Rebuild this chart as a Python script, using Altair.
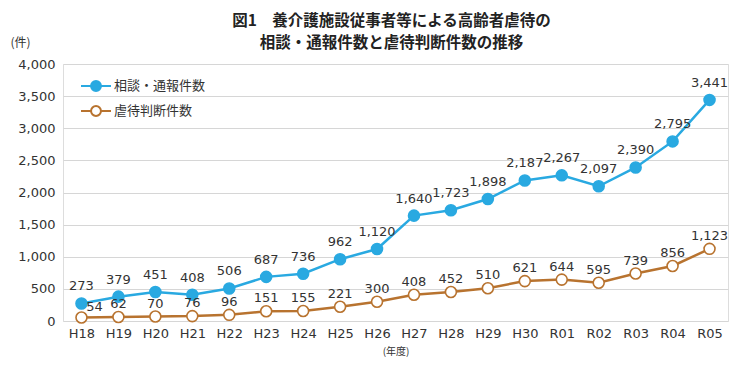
import altair as alt
import pandas as pd

years = ["H18", "H19", "H20", "H21", "H22", "H23", "H24", "H25", "H26",
         "H27", "H28", "H29", "H30", "R01", "R02", "R03", "R04", "R05"]
reports = [273, 379, 451, 408, 506, 687, 736, 962, 1120,
           1640, 1723, 1898, 2187, 2267, 2097, 2390, 2795, 3441]
judged = [54, 62, 70, 76, 96, 151, 155, 221, 300,
          408, 452, 510, 621, 644, 595, 739, 856, 1123]
series_names = ["相談・通報件数", "虐待判断件数"]
line_colors = ["#29a9e1", "#b8732f"]
fill_colors = ["#29a9e1", "#ffffff"]

rows = []
for y, v in zip(years, reports):
    rows.append({"year": y, "value": v, "series": series_names[0]})
for y, v in zip(years, judged):
    rows.append({"year": y, "value": v, "series": series_names[1]})
df = pd.DataFrame(rows)

num_font = "DejaVu Sans"
jp_font = "Noto Sans CJK JP"

legend_path = "M-1,0H-0.33 M0.33,0H1 M0.33,0A0.33,0.33 0 1,1 -0.33,0A0.33,0.33 0 1,1 0.33,0Z"

x_enc = alt.X("year:N", sort=years, title="(年度)",
              scale=alt.Scale(domain=years, type="point", padding=0.5),
              axis=alt.Axis(labelAngle=0, ticks=False, domain=False, grid=False,
                            labelFont=num_font, labelFontSize=13, labelColor="#333",
                            labelPadding=6, titleFont=jp_font, titleFontSize=10,
                            titleFontWeight="normal", titleColor="#333", titlePadding=6))
y_enc = alt.Y("value:Q", title="(件)",
              scale=alt.Scale(domain=[0, 4000], nice=False),
              axis=alt.Axis(values=list(range(0, 4001, 500)), format=",d", ticks=False,
                            domain=False, gridColor="#d6d6d6", gridWidth=1, labelOverlap=False,
                            labelFont=num_font, labelFontSize=13, labelColor="#333",
                            labelPadding=8, titleAngle=0, titleAlign="left",
                            titleBaseline="middle", titleX=-53, titleY=-22,
                            titleFont=jp_font, titleFontSize=12, titleFontWeight="normal",
                            titleColor="#333"))

base = alt.Chart(df).encode(x=x_enc, y=y_enc)

# line colours use a separate field (no legend) so the point legend is not merged/disabled
lines = base.transform_calculate(line_series="datum.series").mark_line(strokeWidth=2.5).encode(
    color=alt.Color("line_series:N", scale=alt.Scale(range=line_colors), legend=None),
)

leg = alt.Legend(title=None, symbolType=legend_path, symbolSize=900, symbolStrokeWidth=2,
                 labelFont=jp_font, labelFontSize=13, labelColor="#333", orient="none",
                 legendX=17, legendY=6, rowPadding=0, labelOffset=2)

points = base.mark_point(filled=True, size=120, strokeWidth=1.6, opacity=1).encode(
    stroke=alt.Stroke("series:N", scale=alt.Scale(domain=series_names, range=line_colors), legend=leg),
    fill=alt.Fill("series:N", scale=alt.Scale(domain=series_names, range=fill_colors), legend=leg),
)

text_blue = base.transform_filter(alt.datum.series == series_names[0]).mark_text(
    dy=-17, font=num_font, fontSize=13, color="#333").encode(
    text=alt.Text("value:Q", format=",d"))

text_brown = base.transform_filter(
    (alt.datum.series == series_names[1]) & (alt.datum.year != years[0])).mark_text(
    dy=-13, font=num_font, fontSize=13, color="#333").encode(
    text=alt.Text("value:Q", format=",d"))

text_brown_first = base.transform_filter(
    (alt.datum.series == series_names[1]) & (alt.datum.year == years[0])).mark_text(
    dy=-11, dx=13, font=num_font, fontSize=13, color="#333").encode(
    text=alt.Text("value:Q", format=",d"))

chart = alt.layer(lines, points, text_blue, text_brown, text_brown_first).properties(
    width=665, height=257,
    title=alt.TitleParams("図1　養介護施設従事者等による高齢者虐待の",
                          subtitle="相談・通報件数と虐待判断件数の推移",
                          font=jp_font, fontSize=15.5, fontWeight="bold", color="#222",
                          subtitleFont=jp_font, subtitleFontSize=15.5, subtitleFontWeight="bold",
                          subtitleColor="#222", subtitlePadding=6, subtitleLineHeight=18,
                          lineHeight=18, anchor="middle", dx=-4, offset=-15),
    autosize=alt.AutoSizeParams(type="none"),
    padding={"left": 55, "top": 56, "right": 8, "bottom": 45},
).configure_view(stroke="#3a3a3a", strokeWidth=1.5).configure(background="white")

chart.save("out.html", embed_options={"renderer": "svg", "actions": False})
